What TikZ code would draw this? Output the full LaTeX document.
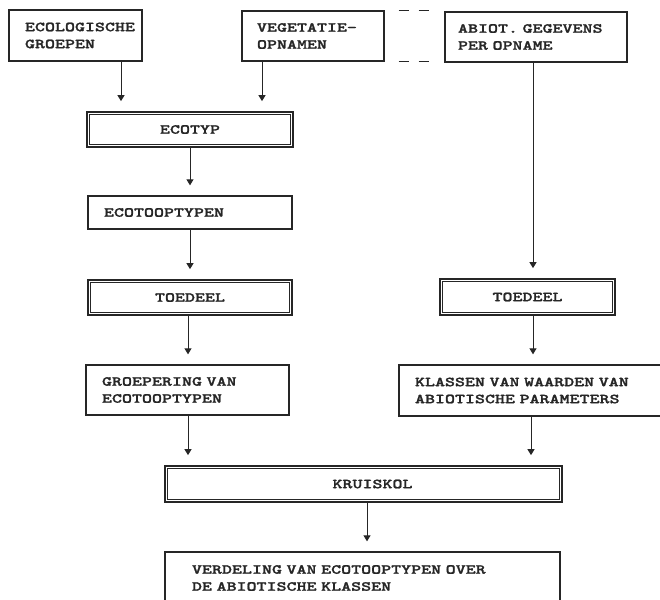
\documentclass[tikz,border=0pt]{standalone}
\usepackage{fontspec}
\newfontfamily\boxfont{lmmonolt10-bold}[Extension=.otf, FakeStretch=1.38, FakeBold=1.6]
\usetikzlibrary{arrows.meta}
\definecolor{ink}{HTML}{262626}
\begin{document}
\begin{tikzpicture}[x=1pt,y=-1pt,
  box/.style={draw=ink, line width=1.3pt, rectangle, inner ysep=0pt,
    font=\boxfont\fontsize{13.8}{17}\selectfont, text=ink},
  leftbox/.style={box, align=left, inner xsep=16pt},
  dbox/.style={box, line width=1.7pt, align=center},
  innerframe/.style={draw=ink, line width=0.8pt},
  flow/.style={draw=ink, line width=1pt, -{Triangle[width=7pt,length=6pt]}, shorten >=10pt},
  link/.style={draw=ink, line width=1pt,
    dash pattern=on 0pt off 14pt on 10pt off 10pt on 10pt off 40pt}
]
\clip (0,0) rectangle (660,599);

% source boxes
\node[leftbox, text width=101pt, minimum height=51pt] (eco) at (75.5,35.5)
  {ECOLOGISCHE\\GROEPEN};
\node[leftbox, inner xsep=15pt, text width=112pt, minimum height=50pt] (veg) at (313,36)
  {VEGETATIE-\\OPNAMEN};
\node[leftbox, inner xsep=13pt, text width=156pt, minimum height=50pt] (abiot) at (536,37)
  {ABIOT. GEGEVENS\\PER OPNAME};

% left chain
\node[dbox, minimum width=206pt, minimum height=35pt] (ecotyp) at (190,129.5) {ECOTYP};
\node[leftbox, text width=172pt, minimum height=33pt] (ecotoop) at (190,212.5) {ECOTOOPTYPEN};
\node[dbox, minimum width=204pt, minimum height=35pt] (toedeelL) at (190,297.5) {TOEDEEL};
\node[leftbox, text width=171pt, minimum height=50pt] (groep) at (187.5,390)
  {GROEPERING VAN\\ECOTOOPTYPEN};

% right chain
\node[dbox, minimum width=175pt, minimum height=36pt] (toedeelR) at (527.5,297) {TOEDEEL};
\node[leftbox, text width=248pt, minimum height=51pt] (klassen) at (539,390.5)
  {KLASSEN VAN WAARDEN VAN\\ABIOTISCHE PARAMETERS};

% combination and result
\node[dbox, minimum width=397pt, minimum height=36pt] (kruiskol) at (363.5,484) {\hspace*{18pt}KRUISKOL};
\node[leftbox, inner xsep=27pt, text width=341pt, minimum height=52pt] (verdeling) at (362.5,578)
  {VERDELING VAN ECOTOOPTYPEN OVER\\DE ABIOTISCHE KLASSEN};

% inner frames of the procedure boxes
\foreach \n in {ecotyp,toedeelL,toedeelR,kruiskol}
  \draw[innerframe] ([shift={(3.2pt,-3.2pt)}]\n.north west) rectangle
                    ([shift={(-3.2pt,3.2pt)}]\n.south east);

% arrow columns
\coordinate (c1) at (121,0);
\coordinate (c2) at (262,0);
\coordinate (c3) at (190,0);
\coordinate (c4) at (188,0);
\coordinate (c5) at (533,0);
\coordinate (c6) at (531,0);
\coordinate (c7) at (367,0);

\draw[flow] (eco.south -| c1) -- (ecotyp.north -| c1);
\draw[flow] (veg.south -| c2) -- (ecotyp.north -| c2);
\draw[flow] (ecotyp.south -| c3) -- (ecotoop.north -| c3);
\draw[flow] (ecotoop.south -| c3) -- (toedeelL.north -| c3);
\draw[flow] (toedeelL.south -| c4) -- (groep.north -| c4);
\draw[flow] (groep.south -| c4) -- (kruiskol.north -| c4);
\draw[flow] (abiot.south -| c5) -- (toedeelR.north -| c5);
\draw[flow] (toedeelR.south -| c5) -- (klassen.north -| c5);
\draw[flow] (klassen.south -| c6) -- (kruiskol.north -| c6);
\draw[flow] (kruiskol.south -| c7) -- (verdeling.north -| c7);

% dashed link between the two record boxes
\draw[link] (veg.north east) -- (veg.north east -| abiot.west);
\draw[link] (veg.south east) -- (veg.south east -| abiot.west);
\end{tikzpicture}
\end{document}
